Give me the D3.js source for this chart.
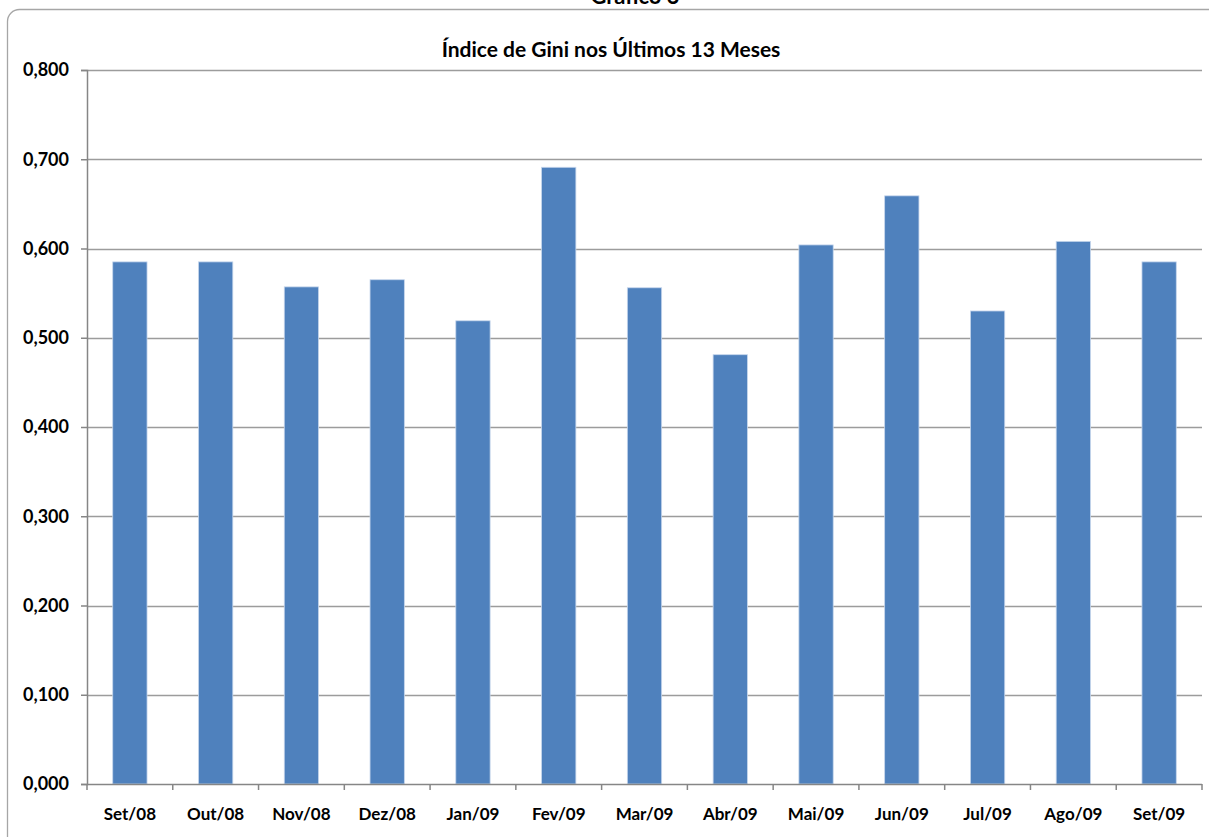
<!doctype html>
<html>
<head>
<meta charset="utf-8"/>
<title>Gini</title>
<script src="https://d3js.org/d3.v7.min.js"></script>
<style>
body { margin: 0; background: #fff; }
text { font-family: Lato, 'Open Sans', sans-serif; font-weight: bold; fill: #000; }
</style>
</head>
<body>
<svg id="svg1"></svg>
<script>
const months = ['Set/08', 'Out/08', 'Nov/08', 'Dez/08', 'Jan/09', 'Fev/09', 'Mar/09',
                'Abr/09', 'Mai/09', 'Jun/09', 'Jul/09', 'Ago/09', 'Set/09']
const gini = [0.585, 0.585, 0.557, 0.565, 0.519, 0.691, 0.556,
              0.481, 0.604, 0.659, 0.530, 0.608, 0.585]
const yTicks = [0, 0.1, 0.2, 0.3, 0.4, 0.5, 0.6, 0.7, 0.8]

const width = 1209
const height = 837
const plotL = 87, plotR = 1202, plotT = 70, plotB = 784

const svg = d3.select('#svg1')
    .attr('width', width)
    .attr('height', height)

// outer frame, runs off the right and bottom edges
svg.append('rect')
    .attr('x', 7.5).attr('y', 9.5)
    .attr('width', 1215).attr('height', 845)
    .attr('rx', 12)
    .style('fill', 'none')
    .style('stroke', '#a6a6a6')
    .style('stroke-width', 1.3)

// figure caption, mostly cut off above the page (as in the source)
svg.append('text')
    .attr('x', 635).attr('y', 4)
    .attr('text-anchor', 'middle')
    .style('font-size', '22px')
    .text('Gráfico 3')

svg.append('text')
    .attr('x', 611).attr('y', 57)
    .attr('text-anchor', 'middle')
    .style('font-size', '21px')
    .text('Índice de Gini nos Últimos 13 Meses')

const x = d3.scaleBand().domain(months).range([plotL, plotR])
    .paddingInner(0.6).paddingOuter(0.3)
const y = d3.scaleLinear().domain([0, 0.8]).range([plotB, plotT])

// gridlines
svg.append('g')
    .selectAll('line')
    .data(yTicks.slice(1))
    .join('line')
    .attr('x1', plotL).attr('x2', plotR)
    .attr('y1', d => Math.round(y(d)) + 0.5)
    .attr('y2', d => Math.round(y(d)) + 0.5)
    .style('stroke', '#9c9c9c')
    .style('stroke-width', 1.3)

svg.append('g')
    .selectAll('rect')
    .data(gini)
    .join('rect')
    .attr('x', (d, i) => x(months[i]))
    .attr('y', d => y(d))
    .attr('width', x.bandwidth())
    .attr('height', d => y(0) - y(d))
    .style('fill', '#4f81bd')
    .style('stroke', '#c6d6ec')
    .style('stroke-width', 0.8)

const fmt = d => d3.format('.3f')(d).replace('.', ',')

const yAxis = svg.append('g')
    .attr('transform', `translate(${plotL},0)`)
    .call(d3.axisLeft(y).tickValues(yTicks).tickFormat(fmt).tickSize(6).tickPadding(12))
yAxis.selectAll('text').style('font-size', '18px')
yAxis.selectAll('line, path').style('stroke', '#868686').style('stroke-width', 1.5)

// x axis ticks sit on category boundaries
const step = (plotR - plotL) / months.length
const bounds = d3.range(months.length + 1).map(i => plotL + i * step)
const xAxis = svg.append('g')

xAxis.append('line')
    .attr('x1', plotL).attr('x2', plotR)
    .attr('y1', plotB + 0.5).attr('y2', plotB + 0.5)
    .style('stroke', '#868686').style('stroke-width', 1.5)
xAxis.selectAll('.tk')
    .data(bounds)
    .join('line')
    .attr('class', 'tk')
    .attr('x1', d => d).attr('x2', d => d)
    .attr('y1', plotB).attr('y2', plotB + 6)
    .style('stroke', '#868686').style('stroke-width', 1.5)
xAxis.selectAll('text')
    .data(months)
    .join('text')
    .attr('x', d => x(d) + x.bandwidth() / 2)
    .attr('y', 820)
    .attr('text-anchor', 'middle')
    .style('font-size', '17px')
    .text(d => d)
</script>
</body>
</html>
